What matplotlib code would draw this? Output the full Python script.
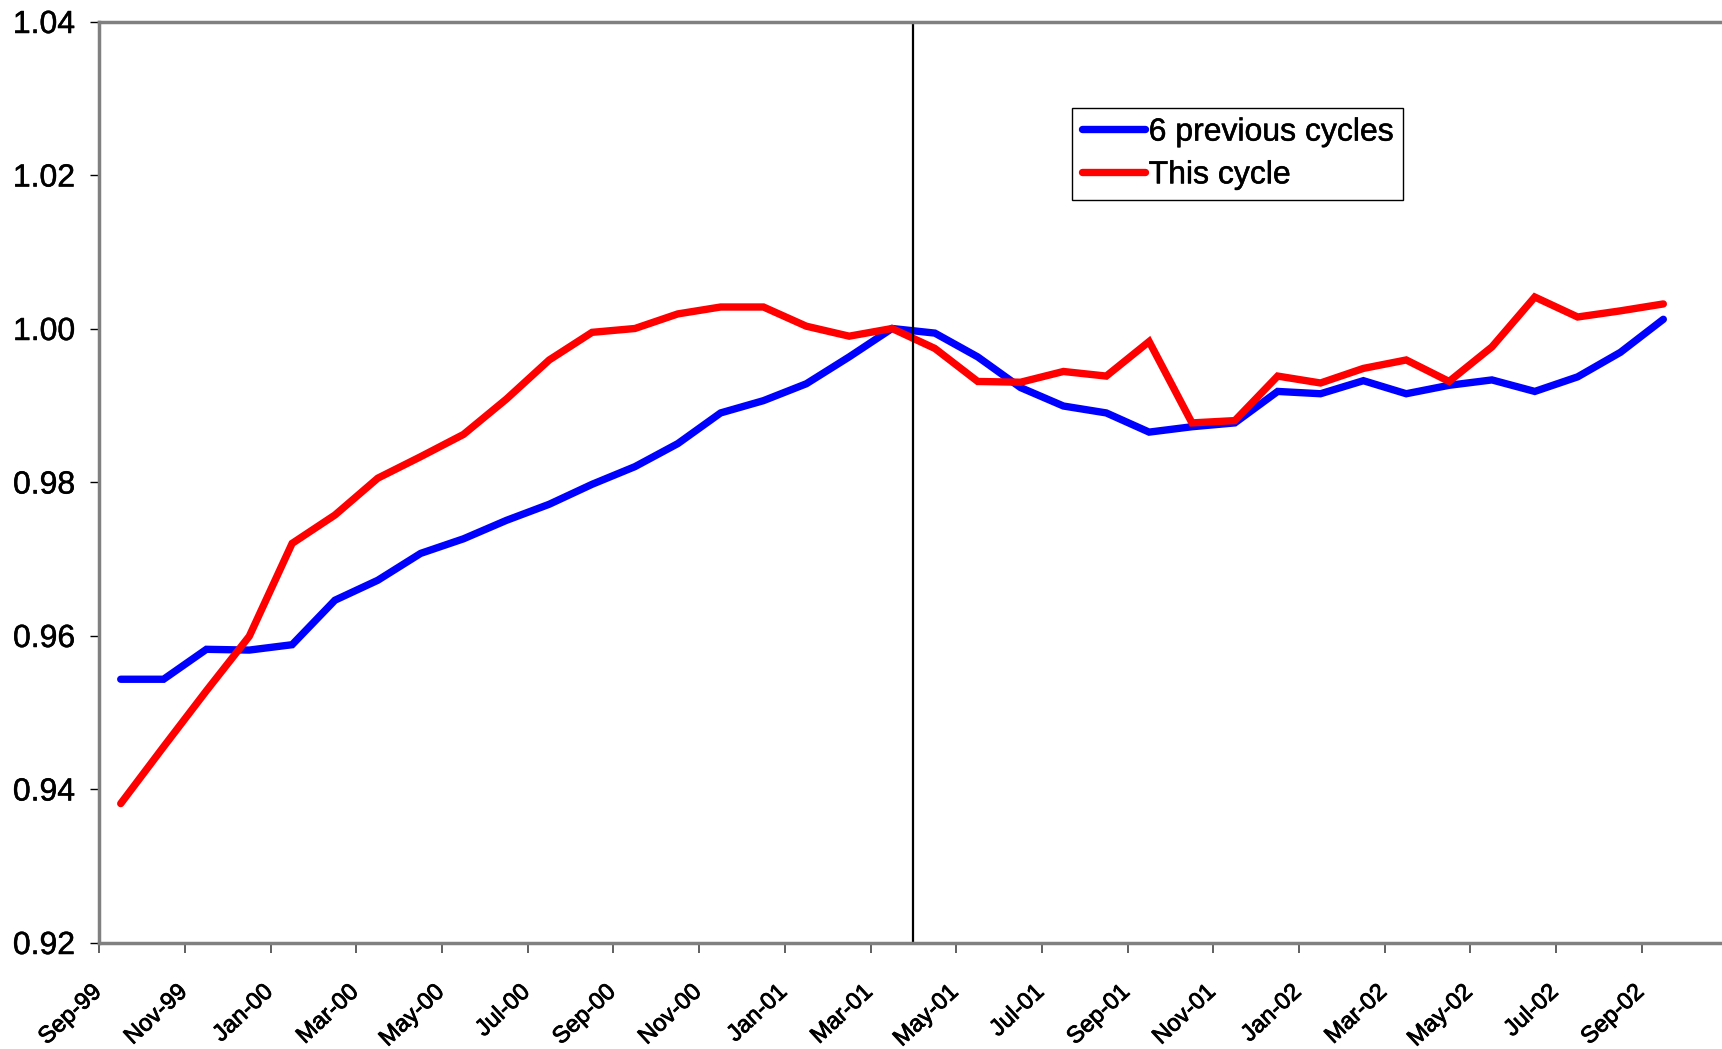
#!/usr/bin/env python3

"""
plot.py

Recreates the "6 previous cycles" vs "This cycle" line chart and saves it as out.png.
"""

import matplotlib
matplotlib.use("Agg") # No display available.
import matplotlib.pyplot as plt # For plotting.
import matplotlib.patheffects as pe # For slightly heavier text.
from matplotlib.transforms import ScaledTranslation # For nudging tick labels.

# --- Data ---

# Monthly categories, Sep-99 to Sep-02 (37 months).
months = ['Sep-99', 'Oct-99', 'Nov-99', 'Dec-99', 'Jan-00', 'Feb-00', 'Mar-00', 'Apr-00',
          'May-00', 'Jun-00', 'Jul-00', 'Aug-00', 'Sep-00', 'Oct-00', 'Nov-00', 'Dec-00',
          'Jan-01', 'Feb-01', 'Mar-01', 'Apr-01', 'May-01', 'Jun-01', 'Jul-01', 'Aug-01',
          'Sep-01', 'Oct-01', 'Nov-01', 'Dec-01', 'Jan-02', 'Feb-02', 'Mar-02', 'Apr-02',
          'May-02', 'Jun-02', 'Jul-02', 'Aug-02', 'Sep-02']

# Average of the 6 previous cycles (index, peak month = 1.00).
previous_cycles = [0.9543, 0.9543, 0.9582, 0.9581, 0.9588, 0.9646, 0.9672, 0.9707,
                   0.9726, 0.9750, 0.9771, 0.9797, 0.9820, 0.9850, 0.9890, 0.9906,
                   0.9928, 0.9963, 1.0000, 0.9994, 0.9963, 0.9923, 0.9899, 0.9890,
                   0.9865, 0.9872, 0.9877, 0.9918, 0.9915, 0.9932, 0.9915, 0.9926,
                   0.9933, 0.9918, 0.9937, 0.9969, 1.0012]

# The current cycle.
this_cycle = [0.9381, 0.9455, 0.9528, 0.9599, 0.9720, 0.9757, 0.9805, 0.9833,
              0.9862, 0.9908, 0.9959, 0.9995, 1.0000, 1.0019, 1.0028, 1.0028,
              1.0003, 0.9990, 1.0000, 0.9974, 0.9931, 0.9930, 0.9944, 0.9938,
              0.9983, 0.9877, 0.9880, 0.9938, 0.9929, 0.9948, 0.9959, 0.9931,
              0.9976, 1.0041, 1.0015, 1.0023, 1.0032]

# Y-axis ticks.
y_ticks = [0.92, 0.94, 0.96, 0.98, 1.00, 1.02, 1.04]

# Month where the vertical marker sits (boundary after Mar-01).
peak_month = 'Mar-01'

# --- Figure ---
plt.rcParams['font.family'] = ['Liberation Sans', 'DejaVu Sans']

W, H = 1722, 1049
fig = plt.figure(figsize=(W / 100, H / 100), dpi=100)

# Plot area in pixels: left edge, bottom edge, top edge, month width.
left_px, bottom_px, top_px, month_px = 99.3, 942.5, 21.5, 42.85
n_slots = 38 # One slot per month, axis runs a little past the last data point.
ax = fig.add_axes([left_px / W, (H - bottom_px) / H,
                   n_slots * month_px / W, (bottom_px - top_px) / H])

# Data points sit in the middle of each month slot.
x = [i + 0.5 for i in range(len(months))]

ax.plot(x, previous_cycles, color='#0000FF', lw=5.3, solid_capstyle='round',
        solid_joinstyle='miter', label='6 previous cycles')
ax.plot(x, this_cycle, color='#FF0000', lw=5.3, solid_capstyle='round',
        solid_joinstyle='miter', label='This cycle')

# Vertical marker line after the peak month.
ax.axvline(months.index(peak_month) + 1, color='black', lw=1.6)

# --- Axes ---
ax.set_xlim(0, n_slots)
ax.set_ylim(0.92, 1.04)

# Thin outline in the text colour makes the text a bit heavier, like the original.
bolder = [pe.withStroke(linewidth=0.6, foreground='black')]
light = [pe.withStroke(linewidth=0.35, foreground='black')]

ax.set_yticks(y_ticks)
ax.set_yticklabels([f'{v:.2f}' for v in y_ticks], fontsize=23)
ax.tick_params(axis='y', direction='out', length=6.5, width=1, color='black', pad=11)

tick_pos = list(range(0, len(months), 2))
ax.set_xticks(tick_pos)
ax.set_xticklabels([months[i] for i in tick_pos], fontsize=17, rotation=43,
                   ha='right', va='top', rotation_mode='anchor')
ax.tick_params(axis='x', direction='out', length=7, width=1.4, color='#606060', pad=20.7)

# Nudge the rotated labels left so their ends sit at the ticks.
offset = ScaledTranslation(-8.5 / 100, 0, fig.dpi_scale_trans)
for lab in ax.get_xticklabels():
    lab.set_transform(lab.get_transform() + offset)
    lab.set_path_effects(bolder)
for lab in ax.get_yticklabels():
    lab.set_path_effects(light)

# Gray frame, no right spine.
for side in ['left', 'bottom', 'top']:
    ax.spines[side].set_color('#808080')
    ax.spines[side].set_linewidth(2.5)
ax.spines['right'].set_visible(False)

# --- Legend ---
leg = ax.legend(loc='upper left', bbox_to_anchor=(1072 / W, 1 - 108 / H),
                bbox_transform=fig.transFigure, fontsize=23, frameon=True,
                fancybox=False, framealpha=1, edgecolor='black', borderpad=0.3,
                borderaxespad=0, handlelength=2.0, handletextpad=0.1,
                labelspacing=0.4)
leg.get_frame().set_linewidth(1.0)
for t in leg.get_texts():
    t.set_path_effects(light)

# --- Save ---
fig.savefig('out.png', dpi=100)
plt.close(fig)
